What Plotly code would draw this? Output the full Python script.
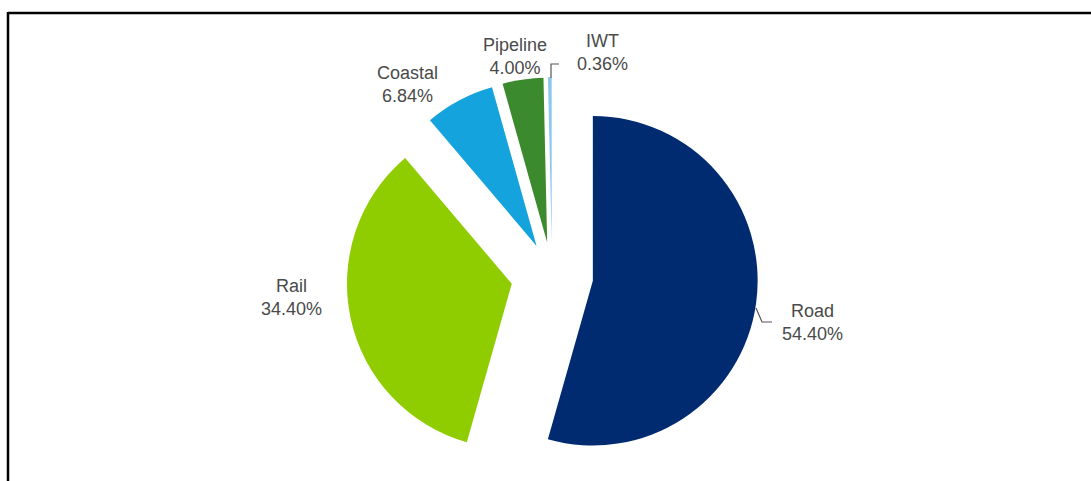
import plotly.graph_objects as go

labels = ["Road", "Rail", "Coastal", "Pipeline", "IWT"]
values = [54.40, 34.40, 6.84, 4.00, 0.36]
colors = ["#002B70", "#8FCC00", "#14A3DC", "#3C8A2E", "#8CC8EE"]
pulls = [0.25, 0.25, 0.2, 0.2, 0.2]

W, H = 1091, 481
# label anchor positions (pixels from top-left), one per slice
label_px = [(812, 322), (291, 297), (407, 84), (515, 56), (603, 52)]

fig = go.Figure(go.Pie(
    labels=labels,
    values=values,
    sort=False,
    direction="clockwise",
    rotation=0,
    pull=pulls,
    marker=dict(colors=colors, line=dict(width=0)),
    textinfo="none",
    showlegend=False,
    automargin=False,
    hoverinfo="label+value",
    domain=dict(x=[0.306, 0.706], y=[0.0, 0.8565]),
))

font = dict(family="Liberation Sans, Arial, sans-serif", size=18, color="#4a4a4a")
for lab, val, (px, py) in zip(labels, values, label_px):
    fig.add_annotation(
        x=px / W, y=1 - py / H, xref="paper", yref="paper",
        text=f"{lab}<br>{val:.2f}%", showarrow=False,
        xanchor="center", yanchor="middle", align="center", font=font,
    )

def P(x, y):
    return f"{x / W:.5f},{1 - y / H:.5f}"

fig.update_layout(
    width=W,
    height=H,
    margin=dict(l=0, r=0, t=0, b=0, autoexpand=False),
    paper_bgcolor="white",
    plot_bgcolor="white",
    shapes=[
        dict(type="line", xref="paper", yref="paper",
             x0=8 / W, x1=1.02, y0=1 - 13 / H, y1=1 - 13 / H,
             line=dict(color="black", width=2.5)),
        dict(type="line", xref="paper", yref="paper",
             x0=8 / W, x1=8 / W, y0=-0.02, y1=1 - 12 / H,
             line=dict(color="black", width=2.5)),
        # IWT leader
        dict(type="path", xref="paper", yref="paper",
             path=f"M {P(551, 78)} L {P(551, 64)} L {P(559, 64)}".replace(",", " ").replace("M ", "M").replace("L ", "L"),
             line=dict(color="#555555", width=1.2)),
        # Road leader
        dict(type="path", xref="paper", yref="paper",
             path=f"M {P(756, 308)} L {P(762, 322)} L {P(772, 322)}".replace(",", " ").replace("M ", "M").replace("L ", "L"),
             line=dict(color="#555555", width=1.2)),
    ],
)

fig.write_html("out.html")
